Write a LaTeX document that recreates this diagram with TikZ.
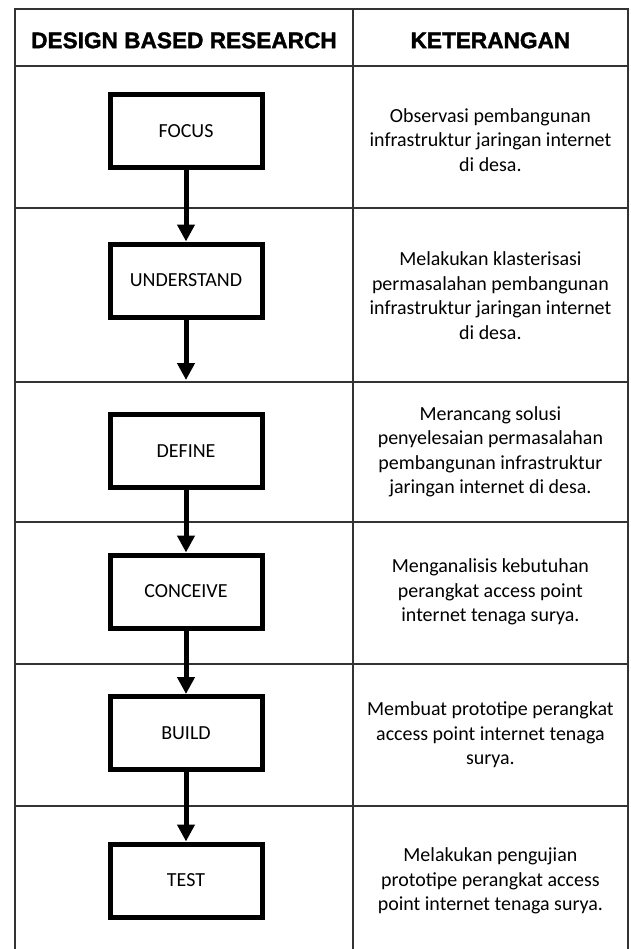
\documentclass[tikz,border=0pt]{standalone}
\usepackage{fontspec}
\setmainfont{Carlito}
\newfontfamily\headfont[BoldFeatures={FakeBold=1.6}]{Liberation Sans}
\usetikzlibrary{arrows.meta}

\begin{document}
\begin{tikzpicture}[
	tahap/.style={draw, line width=0.125cm, minimum width=3.8cm, minimum height=1.825cm, font=\fontsize{14.2}{17.4}\selectfont},
	ket/.style={align=center, font=\fontsize{14.2}{17.4}\selectfont},
	judul/.style={font=\headfont\bfseries\fontsize{16.1}{19}\selectfont},
	panah/.style={line width=0.125cm, -{Triangle[length=0.42cm,width=0.42cm]}},
	garis/.style={line width=0.05cm, black!80}]
	\useasboundingbox (0,0) rectangle (15.775,-23.725);
	\draw[garis] (0.375,-23.725) --(0.375,-0.225) --(15.7,-0.225) --(15.7,-23.725);
	\draw[garis] (8.825,-0.225) --(8.825,-23.725);
	\foreach \y in {-1.65,-5.2,-9.55,-13.05,-16.6,-20.15}
		\draw[garis] (0.375,\y) --(15.7,\y);
	\node[judul] (judulDbr) at (4.6,-1.01) {DESIGN BASED RESEARCH};
	\node[judul] (judulKet) at (12.26,-1.01) {KETERANGAN};
	\node[tahap] (focus) at (4.65,-3.275) {FOCUS};
	\node[tahap] (understand) at (4.65,-7.0125) {UNDERSTAND};
	\node[tahap] (define) at (4.65,-11.275) {DEFINE};
	\node[tahap] (conceive) at (4.65,-14.7875) {CONCEIVE};
	\node[tahap] (build) at (4.65,-18.325) {BUILD};
	\node[tahap] (test) at (4.65,-22.0125) {TEST};
	\coordinate (ujung) at (4.65,-9.5);
	\draw[panah] (focus.south) --(understand.north);
	\draw[panah] (understand.south) --(ujung);
	\draw[panah] (define.south) --(conceive.north);
	\draw[panah] (conceive.south) --(build.north);
	\draw[panah] (build.south) --(test.north);
	\node[ket] (ketFocus) at (12.26,-3.5) {Observasi pembangunan\\infrastruktur jaringan internet\\di desa.};
	\node[ket] (ketUnderstand) at (12.26,-7.39) {Melakukan klasterisasi\\permasalahan pembangunan\\infrastruktur jaringan internet\\di desa.};
	\node[ket] (ketDefine) at (12.26,-11.3) {Merancang solusi\\penyelesaian permasalahan\\pembangunan infrastruktur\\jaringan internet di desa.};
	\node[ket] (ketConceive) at (12.26,-14.8) {Menganalisis kebutuhan\\perangkat access point\\internet tenaga surya.};
	\node[ket] (ketBuild) at (12.26,-18.375) {Membuat prototipe perangkat\\access point internet tenaga\\surya.};
	\node[ket] (ketTest) at (12.26,-22.025) {Melakukan pengujian\\prototipe perangkat access\\point internet tenaga surya.};
\end{tikzpicture}
\end{document}
